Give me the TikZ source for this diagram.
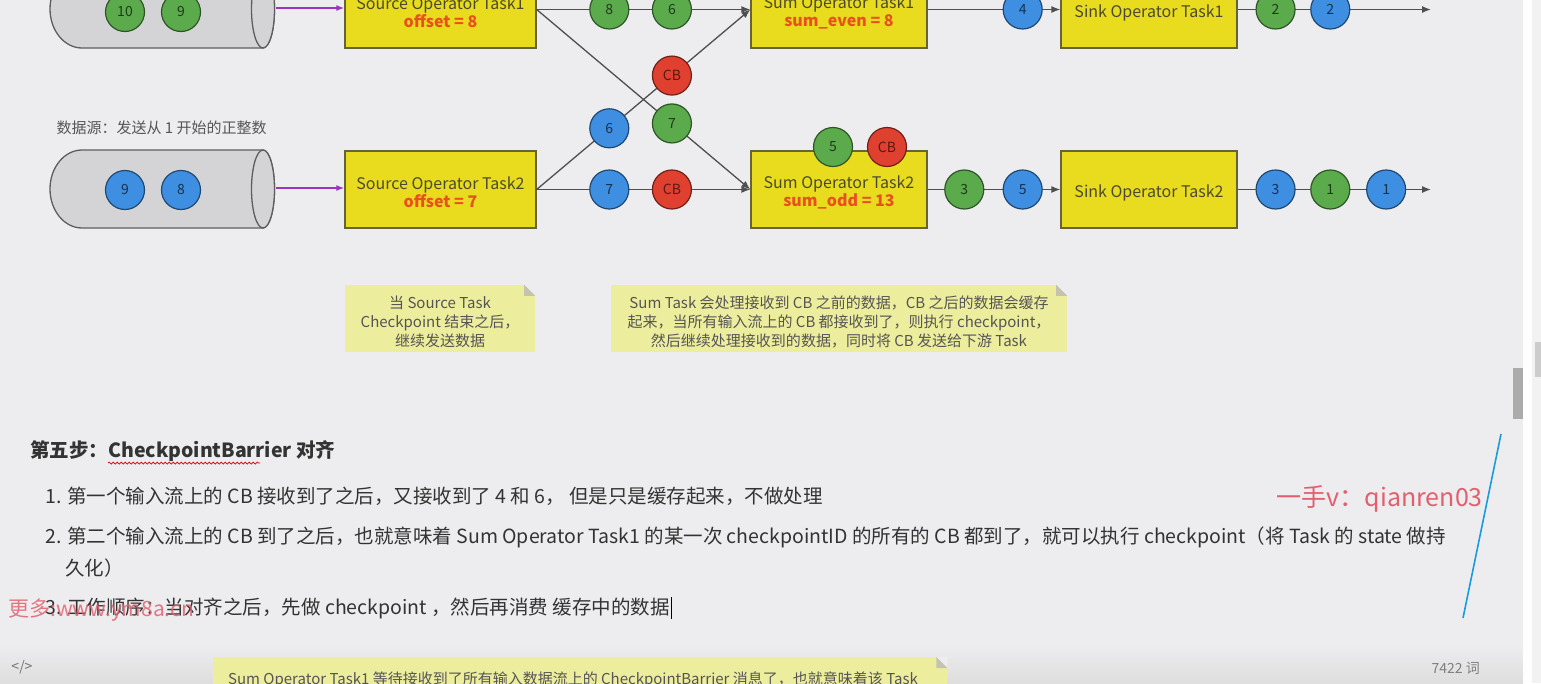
\documentclass[tikz,border=0pt]{standalone}
\usepackage{fontspec}
\setmainfont{Noto Sans CJK SC}
\usepackage{xcolor}
\usetikzlibrary{arrows.meta,positioning,decorations.pathmorphing}
\definecolor{pageBg}{HTML}{EDEDF0}
\definecolor{boxYel}{HTML}{E9DC1F}
\definecolor{boxLine}{HTML}{66623A}
\definecolor{boxText}{HTML}{4B4A30}
\definecolor{offRed}{HTML}{E8501E}
\definecolor{ballGreen}{HTML}{5BAA4C}
\definecolor{ballBlue}{HTML}{3E8FE2}
\definecolor{ballRed}{HTML}{E0402F}
\definecolor{flowGray}{HTML}{4F4F4F}
\definecolor{dbFill}{HTML}{D4D4D7}
\definecolor{dbLine}{HTML}{5E5E5E}
\definecolor{feedPurple}{HTML}{9A35C2}
\definecolor{noteYel}{HTML}{EDED9E}
\definecolor{noteFold}{HTML}{C4C4AE}
\definecolor{noteText}{HTML}{555555}
\definecolor{bodyText}{HTML}{333333}
\definecolor{markRed}{HTML}{E2606E}
\definecolor{penBlue}{HTML}{1A9BE0}
\newcommand{\setfs}[2][18]{\fontsize{#2}{#1}\selectfont}

\begin{document}
\begin{tikzpicture}[x=1pt, y=-1pt, >={Latex[length=9pt,width=7pt]},
  task/.style={draw=boxLine, fill=boxYel, line width=1.3pt, minimum width=176,
    minimum height=77, inner sep=0pt},
  tasktext/.style={text=boxText, font=\setfs{16}, align=center, inner sep=0pt},
  ball/.style={circle, line width=1.2pt, minimum size=39, inner sep=0pt, font=\setfs{14}},
  gball/.style={ball, fill=ballGreen, draw=ballGreen!50!black, text=ballGreen!35!black},
  bball/.style={ball, fill=ballBlue, draw=ballBlue!50!black, text=ballBlue!35!black},
  rball/.style={ball, fill=ballRed, draw=ballRed!50!black, text=ballRed!40!black},
  flow/.style={draw=flowGray, line width=1.3pt, ->},
  feed/.style={draw=feedPurple, line width=1.3pt, -{Latex[length=8pt,width=6pt]}},
  note/.style={fill=noteYel, minimum height=67, inner sep=0pt},
  notetext/.style={text=noteText, font=\setfs[19]{15}, align=center, inner sep=0pt},
  body/.style={anchor=west, text=bodyText, font=\setfs{19.5}, inner sep=0pt}]
\useasboundingbox (0,0) rectangle (1541,683);
\clip (0,0) rectangle (1541,683);
\fill[pageBg] (0,0) rectangle (1541,683);

% ---------- data sources ----------
\foreach \cy in {9,189}{
  \draw[dbLine, fill=dbFill, line width=1.3pt] (82,\cy-39) -- (263,\cy-39)
     arc[start angle=-90, end angle=90, x radius=11.5, y radius=39] -- (82,\cy+39)
     arc[start angle=90, end angle=270, x radius=32, y radius=39] -- cycle;
  \draw[dbLine, fill=dbFill, line width=1.3pt] (263,\cy) ellipse[x radius=11.5, y radius=39];
}
\node[gball] (q10) at (125,12) {10};
\node[gball] (q9)  at (181,12) {9};
\node[bball] (p9)  at (125,190) {9};
\node[bball] (p8)  at (181,190) {8};
\coordinate (db1) at (276,8);
\coordinate (db2) at (276,188);
\node[anchor=west, text=noteText, font=\setfs{15}] (srclbl) at (53,128) {数据源：发送从 1 开始的正整数};

% ---------- operator tasks ----------
\node[task, minimum width=191] (src1) at (440.5,9.5) {};
\node[task, minimum width=191] (src2) at (440.5,189.5) {};
\node[task] (sum1) at (839,9.5) {};
\node[task] (sum2) at (839,189.5) {};
\node[task] (sink1) at (1149,9.5) {};
\node[task] (sink2) at (1149,189.5) {};
\node[tasktext] (src1txt) at ([yshift=-3pt]src1.center) {Source Operator Task1\\ \textcolor{offRed}{\bfseries offset = 8}};
\node[tasktext] (src2txt) at ([yshift=-3pt]src2.center) {Source Operator Task2\\ \textcolor{offRed}{\bfseries offset = 7}};
\node[tasktext] (sum1txt) at ([yshift=-3pt]sum1.center) {Sum Operator Task1\\ \textcolor{offRed}{\bfseries sum\_even = 8}};
\node[tasktext] (sum2txt) at ([yshift=-3pt]sum2.center) {Sum Operator Task2\\ \textcolor{offRed}{\bfseries sum\_odd = 13}};
\node[tasktext] (sink1txt) at ([yshift=-3pt]sink1.center) {Sink Operator Task1};
\node[tasktext] (sink2txt) at ([yshift=-3pt]sink2.center) {Sink Operator Task2};
\coordinate (out1) at (1431,9.5);
\coordinate (out2) at (1431,189.5);

\draw[feed] (db1) -- (db1 -| src1.west);
\draw[feed] (db2) -- (db2 -| src2.west);

% ---------- streams between tasks ----------
\draw[flow] (src1.east) -- node[gball,pos=0.34] (e8) {8} node[gball,pos=0.633] (e6) {6} (sum1.west);
\draw[flow] (src2.east) -- node[bball,pos=0.34] (o6) {6} node[rball,pos=0.633] (cb1) {CB} (sum1.west);
\draw[flow] (src1.east) -- node[gball,pos=0.633] (e7) {7} (sum2.west);
\draw[flow] (src2.east) -- node[bball,pos=0.34] (o7) {7} node[rball,pos=0.633] (cb2) {CB} (sum2.west);
\node[gball] (w5) at (833,147) {5};
\node[rball] (wcb) at (887,147) {CB};
\draw[flow] (sum1.east) -- node[bball,pos=0.716] (s4) {4} (sink1.west);
\draw[flow] (sum2.east) -- node[gball,pos=0.276] (s3) {3} node[bball,pos=0.716] (s5) {5} (sink2.west);
\draw[flow] (sink1.east) -- node[gball,pos=0.196] (k2a) {2} node[bball,pos=0.479] (k2b) {2} (out1);
\draw[flow] (sink2.east) -- node[bball,pos=0.196] (k3) {3} node[gball,pos=0.479] (k1a) {1}
   node[bball,pos=0.768] (k1b) {1} (out2);

% ---------- notes ----------
\node[note, minimum width=190] (note1) at (440,318.5) {};
\node[note, minimum width=456] (note2) at (839,318.5) {};
\node[notetext] (note1txt) at ([yshift=-3pt]note1.center) {当 Source Task\\Checkpoint 结束之后，\\继续发送数据};
\node[notetext] (note2txt) at ([yshift=-3pt]note2.center) {Sum Task 会处理接收到 CB 之前的数据，CB 之后的数据会缓存\\起来，当所有输入流上的 CB 都接收到了，则执行 checkpoint，\\然后继续处理接收到的数据，同时将 CB 发送给下游 Task};
\foreach \nt in {note1,note2}{
  \fill[pageBg] ([xshift=-11pt]\nt.north east) -- (\nt.north east) -- ([yshift=-11pt]\nt.north east) -- cycle;
  \fill[noteFold] ([xshift=-11pt]\nt.north east) -- ([xshift=-11pt,yshift=-11pt]\nt.north east) -- ([yshift=-11pt]\nt.north east) -- cycle;
}

% ---------- text below ----------
\node[body, font=\setfs{19.5}\bfseries] (head) at (30,451) {第五步：CheckpointBarrier 对齐};
\draw[red!85!black, line width=0.7pt, decorate, decoration={snake, amplitude=1pt, segment length=4pt}] (108,463) -- (260,463);
\node[body] (item1) at (45,496) {1. 第一个输入流上的 CB 接收到了之后，又接收到了 4 和 6， 但是只是缓存起来，不做处理};
\node[body] (item2) at (45,537) {2. 第二个输入流上的 CB 到了之后，也就意味着 Sum Operator Task1 的某一次 checkpointID 的所有的 CB 都到了，就可以执行 checkpoint（将 Task 的 state 做持};
\node[body] (item2b) at (65,568) {久化）};
\node[body] (item3) at (45,608) {3. 工作顺序：当对齐之后，先做 checkpoint ，然后再消费 缓存中的数据};
\draw[black, line width=1pt] (item3.east) ++(1.5,-11) -- ++(0,22);

% ---------- overlays ----------
\node[anchor=east, text=markRed, font=\setfs{25}, inner sep=0pt] (wm1) at (1483,499) {一手v：qianren03};
\node[anchor=west, text=markRed, opacity=0.85, font=\setfs{21}, inner sep=0pt] (wm2) at (8,610) {更多:www.ym8a.cn};
\draw[penBlue, line width=1.6pt] (1501,434) -- (1463,618);

% ---------- window frame ----------
\shade[top color=pageBg, bottom color=black!13] (0,645) rectangle (1523,683);
\node[fill=noteYel, minimum width=734, minimum height=60, inner sep=0pt, anchor=north west] (note3) at (213,657) {};
\fill[pageBg] ([xshift=-11pt]note3.north east) -- (note3.north east) -- ([yshift=-11pt]note3.north east) -- cycle;
\fill[noteFold] ([xshift=-11pt]note3.north east) -- ([xshift=-11pt,yshift=-11pt]note3.north east) -- ([yshift=-11pt]note3.north east) -- cycle;
\node[anchor=west, text=noteText, font=\setfs{15}, inner sep=0pt] (note3txt) at (228,680) {Sum Operator Task1 等待接收到了所有输入数据流上的 CheckpointBarrier 消息了，也就意味着该 Task};
\node[text=black!55, font=\setfs{14}] (code) at (22,667) {</>};
\node[anchor=east, text=black!50, font=\setfs{14}, inner sep=0pt] (words) at (1480,668) {7422 词};
\fill[white!97!pageBg] (1523,0) rectangle (1532,683);
\fill[black!5] (1532,0) rectangle (1541,683);
\fill[black!33] (1513,368) rectangle (1523,419);
\fill[black!20] (1535,342) rectangle (1541,377);
\end{tikzpicture}
\end{document}
